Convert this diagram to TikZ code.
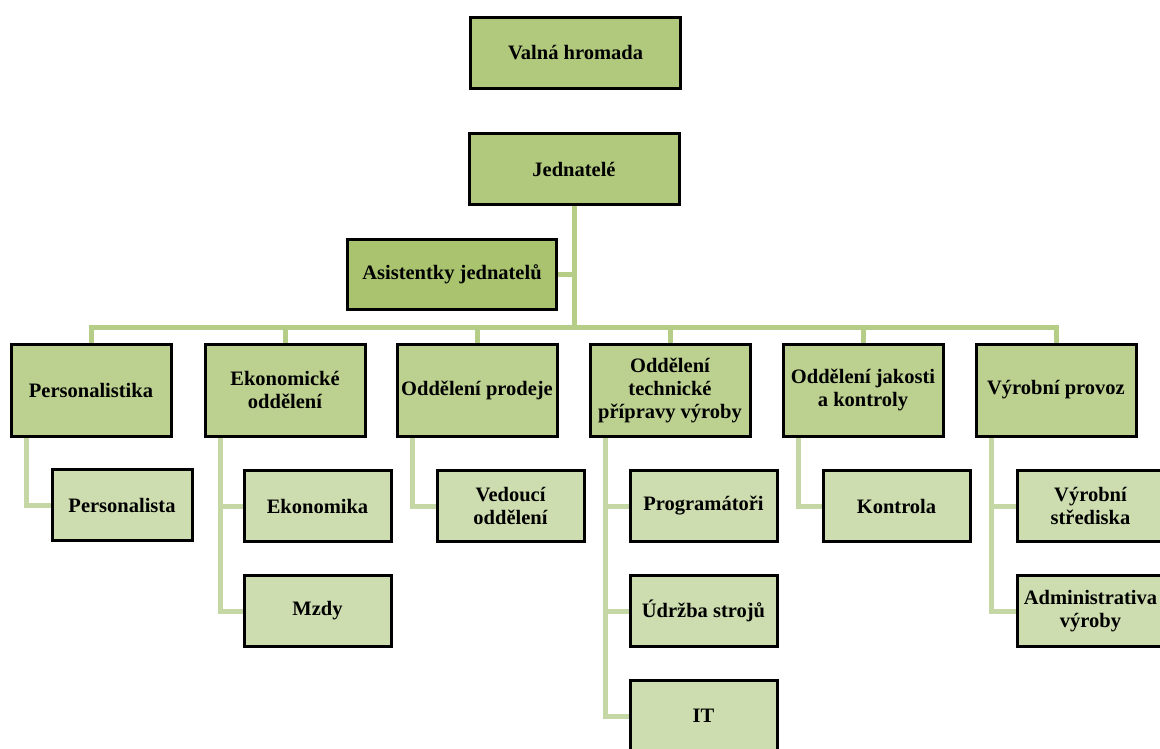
\documentclass[tikz,border=0pt]{standalone}
\usepackage{fontspec}
\setmainfont{Liberation Serif}
\definecolor{topfill}{HTML}{B1C97D}
\definecolor{asfill}{HTML}{A9C36F}
\definecolor{depfill}{HTML}{BCD08F}
\definecolor{subfill}{HTML}{CEDDAF}
\definecolor{busline}{HTML}{B5CD87}
\definecolor{subline}{HTML}{C5D7A5}
\begin{document}
\begin{tikzpicture}[x=1pt,y=-1pt,
  base/.style={draw=black,line width=3pt,align=center,inner sep=2pt,
    font=\fontsize{20.5}{23}\selectfont\bfseries},
  topbox/.style={base,fill=topfill,minimum width=210pt,minimum height=71pt},
  asbox/.style={base,fill=asfill,minimum width=209pt,minimum height=70pt},
  depbox/.style={base,fill=depfill,minimum width=160pt,minimum height=92pt},
  subbox/.style={base,fill=subfill,minimum width=147pt,minimum height=71pt},
  bus/.style={draw=busline,line width=5pt},
  sub/.style={draw=subline,line width=5pt}]
\useasboundingbox (0,0) rectangle (1160,749);
% top
\node[topbox] (vh) at (575.5,53) {Valná hromada};
\node[topbox] (jd) at (574,169) {Jednatelé};
\node[asbox] (as) at (452,274.5) {Asistentky jednatelů};
\coordinate (bushub) at (574,327);
\coordinate (asj) at (574,274.5);
% departments
\node[depbox] (d1) at (91,390) {Personalistika};
\node[depbox] (d2) at (285,390) {Ekonomické\\oddělení};
\node[depbox] (d3) at (477,390) {Oddělení prodeje};
\node[depbox] (d4) at (670,390) {Oddělení\\technické\\přípravy výroby};
\node[depbox] (d5) at (863,390) {Oddělení jakosti\\a kontroly};
\node[depbox] (d6) at (1056,390) {Výrobní provoz};
% connectors top
\draw[bus] (jd.south) -- (bushub);
\draw[bus] (as.east) -- (asj);
\foreach \d in {d1,d2,d3,d4,d5,d6} \draw[bus] (bushub) -| (\d.north);
% sub boxes
\node[subbox,minimum width=140pt] (s1) at (122,505) {Personalista};
\node[subbox] (s2a) at (317.5,506) {Ekonomika};
\node[subbox] (s2b) at (317.5,611) {Mzdy};
\node[subbox] (s3) at (510.5,506) {Vedoucí\\oddělení};
\node[subbox] (s4a) at (703.5,506) {Programátoři};
\node[subbox] (s4b) at (703.5,611) {Údržba strojů};
\node[subbox] (s4c) at (703.5,716) {IT};
\node[subbox] (s5) at (896.5,506) {Kontrola};
\node[subbox] (s6a) at (1090.5,506) {Výrobní\\střediska};
\node[subbox] (s6b) at (1090.5,611) {Administrativa\\výroby};
% sub connectors
\begin{scope}[on background layer/.style={}]
\draw[sub] ([xshift=17pt]d1.south west) |- (s1.west);
\draw[sub] ([xshift=17pt]d2.south west) |- (s2b.west);
\draw[sub] ([xshift=17pt]d2.south west |- s2a.west) -- (s2a.west);
\draw[sub] ([xshift=17pt]d3.south west) |- (s3.west);
\draw[sub] ([xshift=17pt]d4.south west) |- (s4c.west);
\draw[sub] ([xshift=17pt]d4.south west |- s4a.west) -- (s4a.west);
\draw[sub] ([xshift=17pt]d4.south west |- s4b.west) -- (s4b.west);
\draw[sub] ([xshift=17pt]d5.south west) |- (s5.west);
\draw[sub] ([xshift=17pt]d6.south west) |- (s6b.west);
\draw[sub] ([xshift=17pt]d6.south west |- s6a.west) -- (s6a.west);
\end{scope}
\end{tikzpicture}
\end{document}
